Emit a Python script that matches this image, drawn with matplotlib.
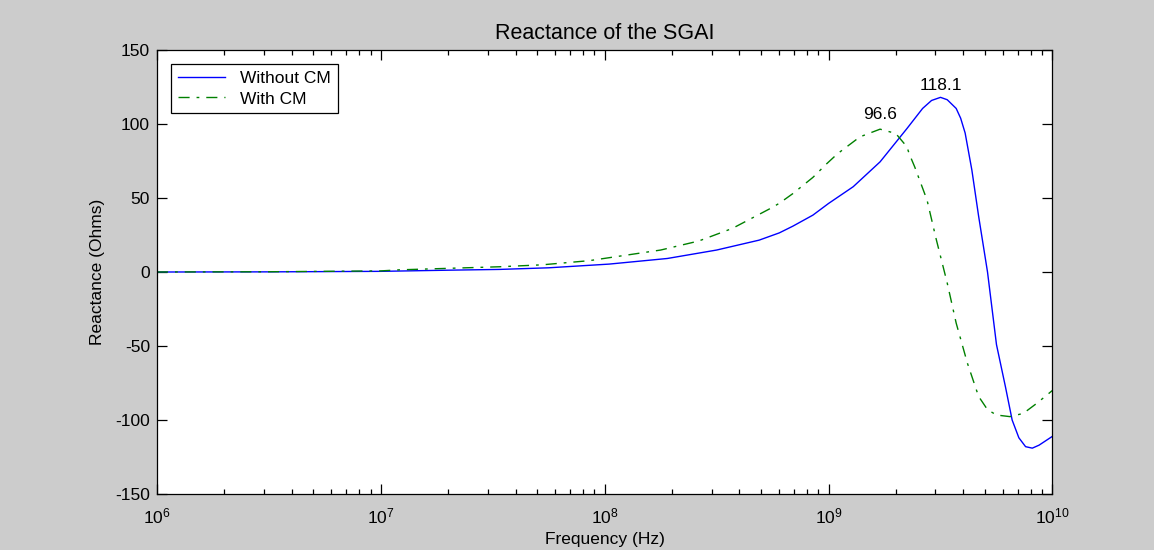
import numpy as np
import matplotlib
matplotlib.use("Agg")
import matplotlib.pyplot as plt
from matplotlib.ticker import LogLocator, FixedLocator

plt.rcParams["font.family"] = ["Liberation Sans", "DejaVu Sans"]
plt.rcParams["mathtext.fontset"] = "custom"
plt.rcParams["mathtext.rm"] = "Liberation Sans"
plt.rcParams["mathtext.it"] = "Liberation Sans"
plt.rcParams["axes.unicode_minus"] = False

# values (log10 of frequency, reactance in ohms)
exp_without = [6.0, 6.5, 7.0, 7.31, 7.53, 7.75, 8.02, 8.28, 8.50, 8.69, 8.78,
               8.84, 8.93, 9.00, 9.11, 9.23, 9.35, 9.42, 9.46, 9.50, 9.53,
               9.57, 9.59, 9.61, 9.64, 9.67, 9.71, 9.75, 9.79, 9.82, 9.85,
               9.88, 9.91, 9.94, 9.97, 10.0]
x_without = [0.05, 0.15, 0.5, 1.3, 1.8, 2.9, 5.4, 9.2, 14.9, 21.6, 26.5,
             31.0, 38.5, 46.4, 57.7, 74.5, 97.0, 110.6, 116.0, 118.1, 116.5,
             110.6, 104.0, 94.0, 69.0, 38.0, 0.0, -49.0, -77.5, -100.0, -112.0,
             -118.0, -119.0, -117.0, -114.0, -111.0]

exp_with = [6.0, 6.5, 7.0, 7.08, 7.53, 7.72, 7.93, 8.25, 8.42, 8.57, 8.74,
            8.78, 8.84, 8.93, 8.99, 9.04, 9.14, 9.23, 9.30, 9.35, 9.36,
            9.385, 9.44, 9.48, 9.53, 9.57, 9.62, 9.67, 9.71, 9.75, 9.81,
            9.87, 9.93, 10.0]
x_with = [0.07, 0.22, 0.8, 1.5, 3.6, 4.9, 7.7, 14.9, 21.0, 29.5, 43.0,
          46.5, 53.0, 64.0, 73.0, 80.0, 91.4, 96.6, 93.7, 84.7, 80.0,
          71.0, 48.6, 22.7, -7.4, -34.5, -61.5, -84.0, -93.0, -96.6, -97.7,
          -95.5, -88.7, -80.0]

freq_without = np.power(10.0, exp_without)
freq_with = np.power(10.0, exp_with)

y_ticks = [-150, -100, -50, 0, 50, 100, 150]

fig = plt.figure(figsize=(11.54, 5.5), dpi=100, facecolor="#cccccc")
ax = fig.add_axes([0.136, 0.1018, 0.776, 0.807])
ax.set_facecolor("white")

ax.plot(freq_without, x_without, color=(0, 0, 1), lw=1.0, label="Without CM")
ax.plot(freq_with, x_with, color=(0, 0.5, 0), lw=1.0,
        linestyle=(0, (8, 5, 2, 5)), label="With CM")

# peak values
i_peak = int(np.argmax(x_without))
ax.annotate(f"{x_without[i_peak]:.1f}", (freq_without[i_peak], x_without[i_peak]),
            xytext=(0, 3), textcoords="offset points", ha="center", va="bottom",
            fontsize=12.5)
j_peak = int(np.argmax(x_with))
ax.annotate(f"{x_with[j_peak]:.1f}", (freq_with[j_peak], x_with[j_peak]),
            xytext=(0, 5), textcoords="offset points", ha="center", va="bottom",
            fontsize=12.5)

ax.set_xscale("log")
ax.set_xlim(1e6, 1e10)
ax.set_ylim(-150, 150)
ax.yaxis.set_major_locator(FixedLocator(y_ticks))
ax.xaxis.set_major_locator(LogLocator(base=10, numticks=10))
ax.xaxis.set_minor_locator(LogLocator(base=10, subs=np.arange(2, 10), numticks=10))

ax.tick_params(which="both", direction="in", top=True, right=True,
               labelsize=12.5, width=0.9, colors="black")
ax.tick_params(which="major", length=7)
ax.tick_params(which="minor", length=3.5)
ax.tick_params(axis="y", pad=5)
ax.tick_params(axis="x", pad=9)
for s in ax.spines.values():
    s.set_linewidth(0.9)

ax.set_title("Reactance of the SGAI", fontsize=15.5, pad=8)
ax.set_xlabel("Frequency (Hz)", fontsize=12.5, labelpad=4)
ax.set_ylabel("Reactance (Ohms)", fontsize=12.5, labelpad=7)

leg = ax.legend(loc="upper left", fontsize=12.5, fancybox=False, framealpha=1,
                edgecolor="black", borderaxespad=0.8, handlelength=2.7,
                handletextpad=0.9, labelspacing=0.3, borderpad=0.4)
leg.get_frame().set_linewidth(0.9)

fig.savefig("out.png", dpi=100, facecolor=fig.get_facecolor())
